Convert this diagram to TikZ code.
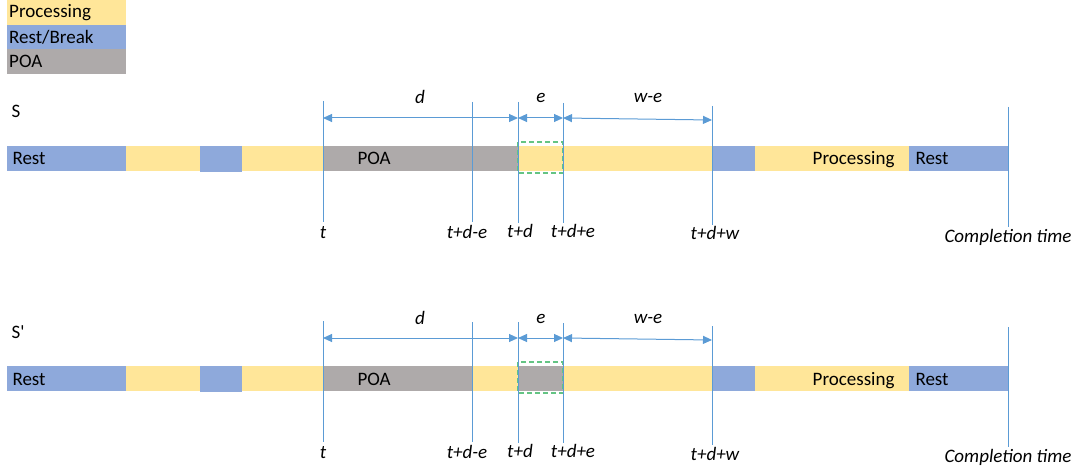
\documentclass[tikz,border=0pt]{standalone}
\usepackage{fontspec}
\setmainfont{Carlito}
\usetikzlibrary{arrows.meta}

\definecolor{proc}{RGB}{255,230,153}
\definecolor{rest}{RGB}{142,169,219}
\definecolor{poa}{RGB}{174,170,170}
\definecolor{lineblue}{RGB}{91,155,213}
\definecolor{boxgreen}{RGB}{100,196,132}

\tikzset{
  legendbox/.style={anchor=north west,minimum width=119pt,minimum height=24.5pt,inner sep=0pt,text width=115pt,align=left},
  vline/.style={lineblue,line width=1pt},
  span/.style={lineblue,line width=1pt,{Triangle[length=9pt,width=8pt]}-{Triangle[length=9pt,width=8pt]}},
  gapbox/.style={boxgreen,line width=1.3pt,dash pattern=on 5pt off 3pt},
  tlabel/.style={anchor=base,font=\fontsize{19}{22}\selectfont\itshape}
}

\begin{document}
\begin{tikzpicture}[x=1pt,y=-1pt,font=\fontsize{19}{22}\selectfont]
\useasboundingbox (0,0) rectangle (1080,468);

% legend
\node[legendbox,fill=proc] (lproc) at (7,0) {Processing};
\node[legendbox,fill=rest] (lrest) at (7,24.5) {Rest/Break};
\node[legendbox,fill=poa] (lpoa) at (7,49) {POA};

\foreach \lab/\dy/\r/\poaend/\boxfill in {S/0/a/518/proc, S\textquotesingle/220/b/472/poa}{
  \begin{scope}[shift={(0,\dy)}]
    \node[anchor=base west] (name\r) at (8,118) {\lab};
    % bar
    \fill[rest] (7,146) rectangle (126,171);
    \fill[proc] (126,146) rectangle (200,171);
    \fill[rest] (200,146) rectangle (242,172);
    \fill[proc] (242,146) rectangle (323,171);
    \fill[proc] (472,146) rectangle (518,171);
    \fill[poa] (323,146) rectangle (\poaend,171);
    \fill[\boxfill] (518,146) rectangle (563,171);
    \fill[proc] (563,146) rectangle (712,171);
    \fill[rest] (712,146) rectangle (755,171);
    \fill[proc] (755,146) rectangle (909,171);
    \fill[rest] (909,146) rectangle (1008,171);
    \node[anchor=base west] (rest\r) at (9,165) {Rest};
    \node[anchor=base west] (poa\r) at (354,165) {POA};
    \node[anchor=base east] (proc\r) at (898,165) {Processing};
    \node[anchor=base west] (end\r) at (912,165) {Rest};
    \draw[gapbox] (518,142) rectangle (563,173);
    % time marks
    \foreach \n/\x/\yt/\yb/\txt/\lx/\by in {t/323/101/222/t/323/238, tde/472/102/222/t+d-e/467/238,
        td/518/102/223/t+d/520/237, tdpe/563/103/223/t+d+e/573/237,
        tdw/712/106/225/t+d+w/715/240, ct/1008/107/227/Completion time/1008/242}{
      \coordinate (\n top\r) at (\x,\yt);
      \coordinate (\n bot\r) at (\x,\yb);
      \draw[vline] (\n top\r) -- (\n bot\r);
      \node[tlabel] (\n lab\r) at (\lx,\by) {\txt};
    }
    % spans
    \coordinate (p1\r) at (323,118);
    \coordinate (p2\r) at (518,118);
    \coordinate (p3\r) at (563,118);
    \coordinate (p4\r) at (712,120);
    \draw[span] (p1\r) -- (p2\r);
    \draw[span] (p2\r) -- (p3\r);
    \draw[span] (p3\r) -- (p4\r);
    \node[tlabel] (dlab\r) at (420,104) {d};
    \node[tlabel] (elab\r) at (541,103) {e};
    \node[tlabel] (welab\r) at (648,103) {w-e};
  \end{scope}
}
\end{tikzpicture}
\end{document}
